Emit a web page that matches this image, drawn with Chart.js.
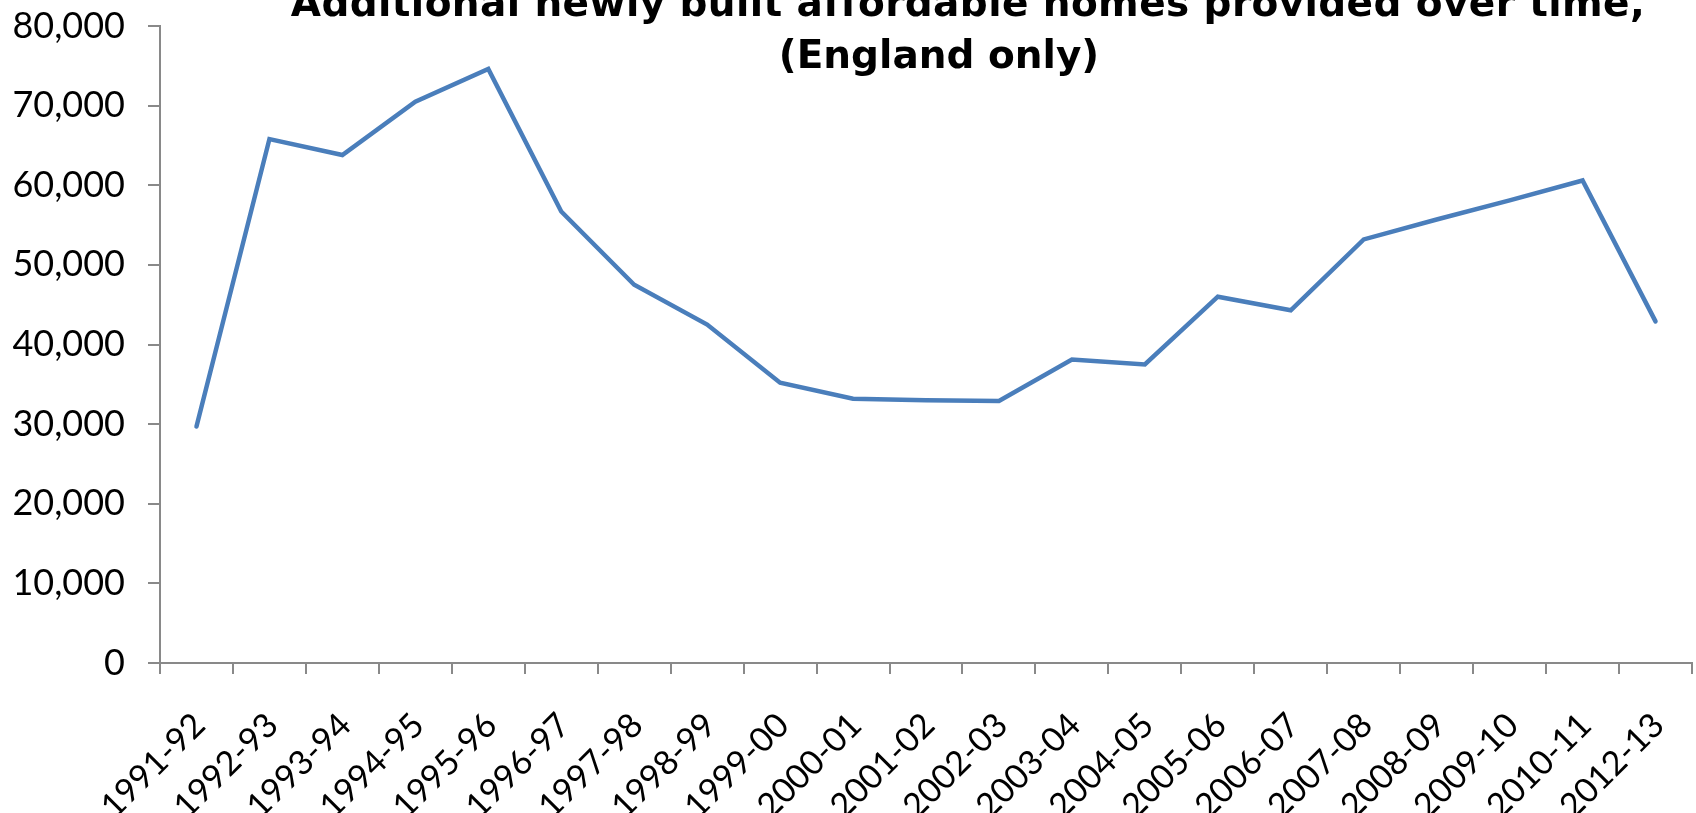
<!DOCTYPE html>
<html>
<head>
<meta charset="utf-8">
<script src="https://cdn.jsdelivr.net/npm/chart.js@4.4.1/dist/chart.umd.min.js"></script>
<style>
  html, body { margin: 0; padding: 0; background: #fff; }
  #wrap { position: relative; width: 1696px; height: 813px; }
</style>
</head>
<body>
<div id="wrap"><canvas id="myChart"></canvas></div>
<script>
// financial years (note: 2011-12 is absent in the source)
var years = ['1991-92','1992-93','1993-94','1994-95','1995-96','1996-97','1997-98',
  '1998-99','1999-00','2000-01','2001-02','2002-03','2003-04','2004-05','2005-06',
  '2006-07','2007-08','2008-09','2009-10','2010-11','2012-13'];

// additional newly built affordable homes
var homes = [29700,65800,63800,70500,74600,56700,47500,42500,35200,33200,33000,
  32900,38100,37500,46000,44300,53200,55700,58100,60600,42900];

var titleLines = ['Additional newly built affordable homes provided over time,', '(England only)'];

var yMin = 0, yMax = 80000, yStep = 10000;

var axisGrey = '#898989';
var tickFont = "Lato, 'DejaVu Sans', sans-serif";
var titleFont = "'DejaVu Sans', sans-serif";

var titlePlugin = {
  id: 'topTitle',
  afterDraw: function(chart) {
    var c = chart.ctx;
    c.save();
    c.fillStyle = '#000';
    c.font = "bold 39px " + titleFont;
    c.textAlign = 'center';
    c.textBaseline = 'alphabetic';
    c.letterSpacing = '0.4px';
    c.fillText(titleLines[0], 968, 16);
    c.letterSpacing = '0px';
    c.fillText(titleLines[1], 939, 68);
    c.restore();
  }
};

var ctx = document.getElementById('myChart');
var chart = new Chart(ctx, {
  type: 'line',
  data: {
    labels: years,
    datasets: [{
      data: homes,
      borderColor: '#4A7EBB',
      borderWidth: 4.5,
      borderCapStyle: 'round',
      borderJoinStyle: 'miter',
      pointRadius: 0,
      fill: false,
      tension: 0
    }]
  },
  options: {
    responsive: true,
    maintainAspectRatio: false,
    animation: false,
    layout: { padding: { top: 26, right: 4, left: 0, bottom: 0 } },
    plugins: {
      legend: { display: false },
      tooltip: { enabled: false },
      title: { display: false }
    },
    scales: {
      x: {
        type: 'category',
        offset: true,
        grid: {
          offset: true,
          drawOnChartArea: false,
          drawTicks: true,
          tickLength: 11,
          color: axisGrey,
          lineWidth: 2
        },
        border: { color: axisGrey, width: 2 },
        ticks: {
          autoSkip: false,
          maxRotation: 45,
          minRotation: 45,
          padding: 31,
          labelOffset: 3,
          color: '#000',
          font: { family: tickFont, size: 34 }
        },
        afterFit: function(scale) {
          scale.height = 150;
          scale.paddingLeft = 0;
          scale.paddingRight = 0;
        }
      },
      y: {
        min: yMin,
        max: yMax,
        grid: {
          drawOnChartArea: false,
          drawTicks: true,
          tickLength: 12,
          color: axisGrey,
          lineWidth: 2
        },
        border: { color: axisGrey, width: 2 },
        ticks: {
          stepSize: yStep,
          padding: 23,
          color: '#000',
          font: { family: tickFont, size: 36 },
          callback: function(v) { return v.toLocaleString('en-US'); }
        },
        afterFit: function(scale) {
          scale.width = 160;
          scale.paddingTop = 0;
          scale.paddingBottom = 0;
        }
      }
    }
  },
  plugins: [titlePlugin]
});
</script>
</body>
</html>
